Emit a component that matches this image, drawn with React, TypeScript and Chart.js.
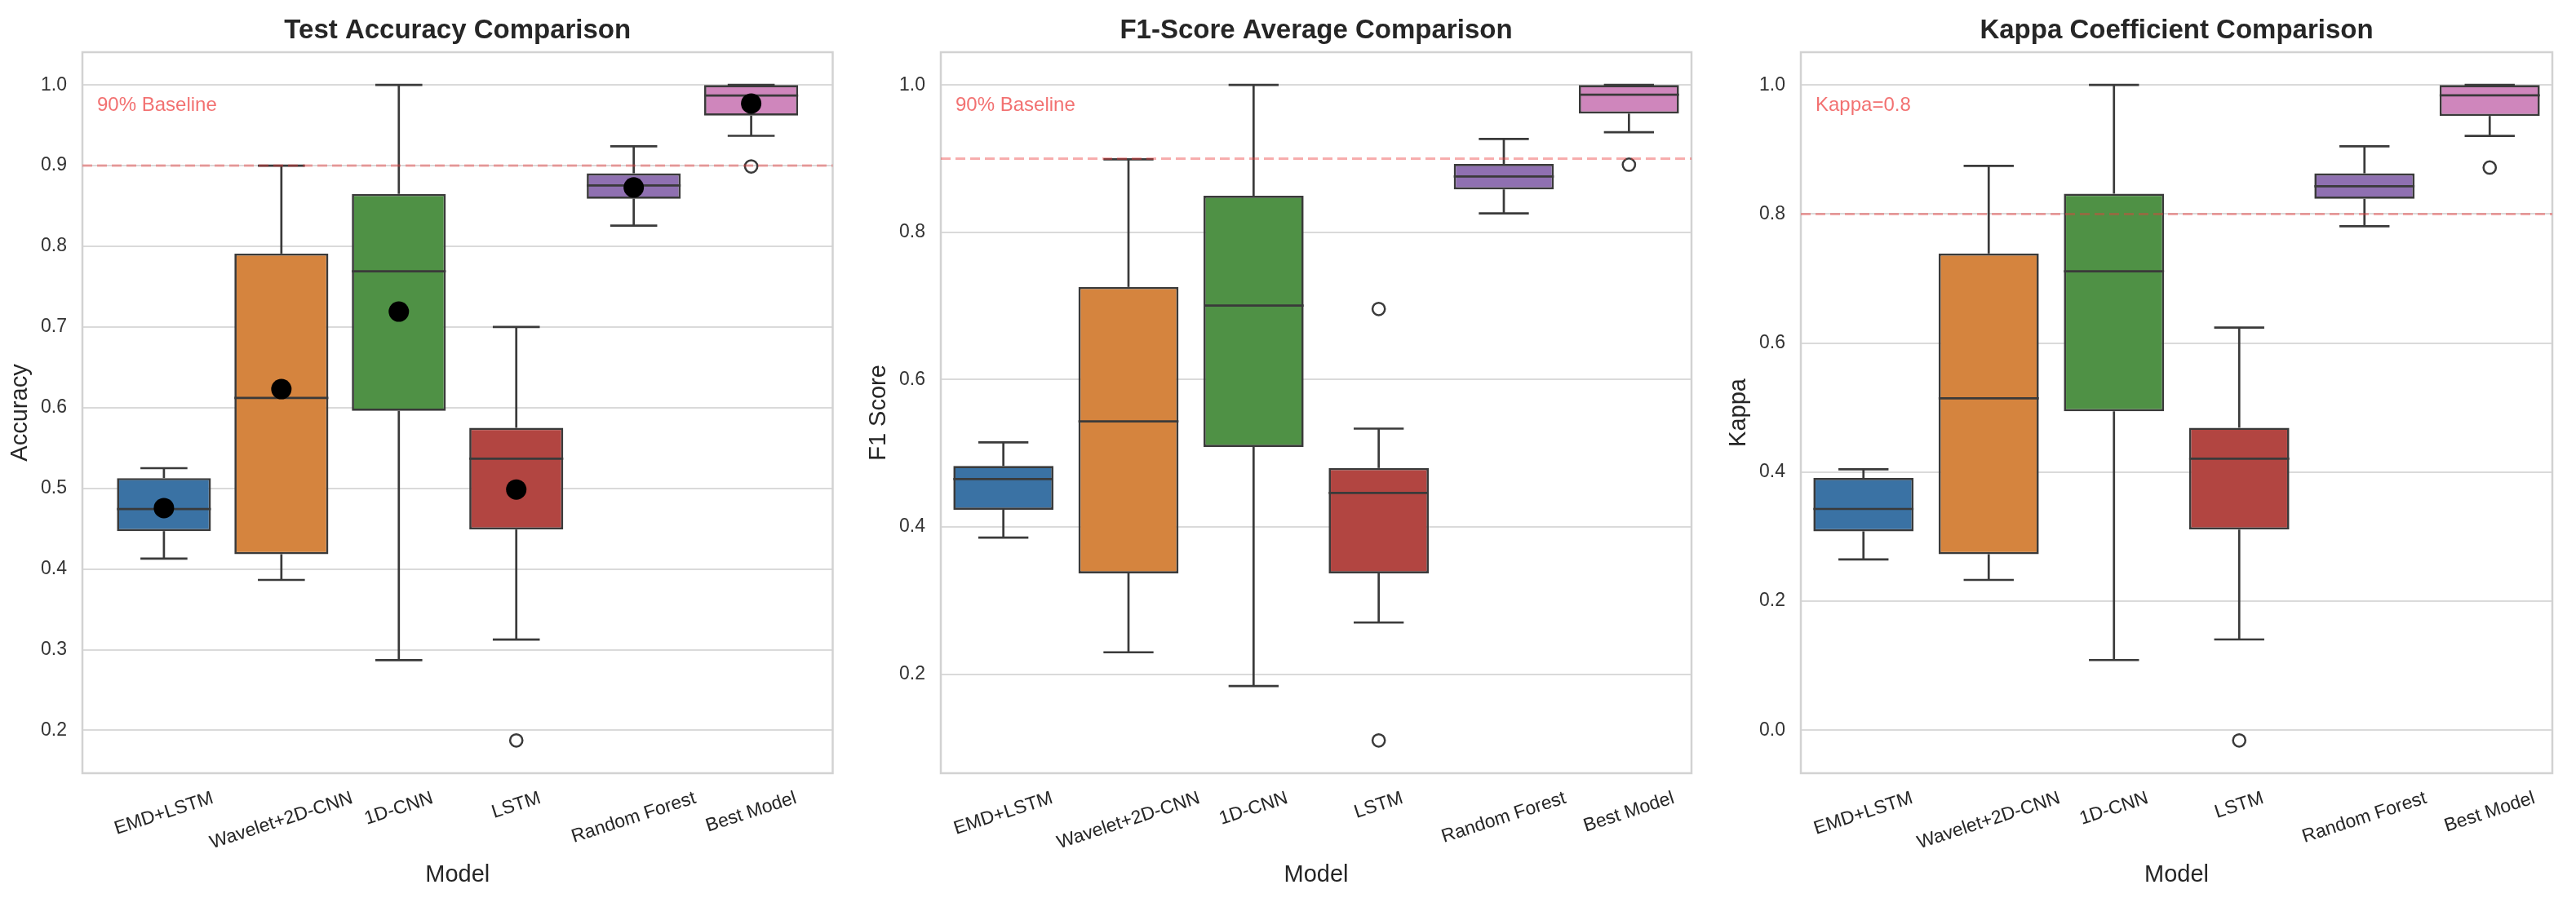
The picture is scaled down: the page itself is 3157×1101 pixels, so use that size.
import React, { useEffect, useRef } from 'react';
import { Chart, registerables } from 'chart.js';

Chart.register(...registerables);

// ---------- data ----------
const categories = ['EMD+LSTM', 'Wavelet+2D-CNN', '1D-CNN', 'LSTM', 'Random Forest', 'Best Model'];
const boxColors = ['#3a72a4', '#d5843e', '#4f9145', '#b24541', '#8f70b1', '#cf86bc'];

// Test accuracy
const accLow = [0.413, 0.3865, 0.287, 0.3125, 0.8256, 0.937];
const accQ1 = [0.447, 0.4184, 0.596, 0.449, 0.859, 0.962];
const accMedian = [0.4744, 0.612, 0.769, 0.5368, 0.8755, 0.987];
const accQ3 = [0.5127, 0.791, 0.865, 0.575, 0.8905, 1.0];
const accHigh = [0.525, 0.9, 1.0, 0.7, 0.924, 1.0];
const accMean = [0.4755, 0.623, 0.719, 0.4985, 0.873, 0.977];
const accOutlierModel = ['LSTM', 'Best Model'];
const accOutlierValue = [0.1875, 0.899];
const accTicks = [0.2, 0.3, 0.4, 0.5, 0.6, 0.7, 0.8, 0.9, 1.0];

// F1-score
const f1Low = [0.3855, 0.2297, 0.1838, 0.2701, 0.8256, 0.9359];
const f1Q1 = [0.4233, 0.3369, 0.5085, 0.3369, 0.8582, 0.9611];
const f1Median = [0.4648, 0.5432, 0.7005, 0.4461, 0.8757, 0.9868];
const f1Q3 = [0.4826, 0.7257, 0.8496, 0.4799, 0.8928, 1.0];
const f1High = [0.5148, 0.899, 1.0, 0.5334, 0.9266, 1.0];
const f1OutlierModel = ['LSTM', 'LSTM', 'Best Model'];
const f1OutlierValue = [0.6958, 0.11, 0.8917];
const f1Ticks = [0.2, 0.4, 0.6, 0.8, 1.0];

// Kappa
const kappaLow = [0.2647, 0.2329, 0.1087, 0.1406, 0.781, 0.921];
const kappaQ1 = [0.3082, 0.2728, 0.4944, 0.3109, 0.8235, 0.952];
const kappaMedian = [0.3429, 0.5144, 0.7113, 0.4209, 0.843, 0.984];
const kappaQ3 = [0.3908, 0.7388, 0.8315, 0.4688, 0.863, 1.0];
const kappaHigh = [0.4044, 0.8745, 1.0, 0.6239, 0.905, 1.0];
const kappaOutlierModel = ['LSTM', 'Best Model'];
const kappaOutlierValue = [-0.0159, 0.872];
const kappaTicks = [0.0, 0.2, 0.4, 0.6, 0.8, 1.0];

// ---------- style ----------
const FONT = '"Liberation Sans", Arial, Helvetica, sans-serif';
const EDGE = '#3a3a3a';
const TEXT = '#262626';
const GRID = '#dadada';
const FRAME = '#d2d2d2';
const H = 1101;
const PLOT_TOP = 64;
const PLOT_BOTTOM = 948;
const YAXIS_W = 101;
const PAD_R = 12;

type PanelSpec = {
  key: string;
  plotLeft: number;
  plotRight: number;
  title: string;
  yTitle: string;
  low: number[];
  q1: number[];
  median: number[];
  q3: number[];
  high: number[];
  mean: number[] | null;
  outModel: string[];
  outValue: number[];
  ticks: number[];
  xMin: number;
  xMax: number;
  refValue: number;
  refLabel: string;
};

const panels: PanelSpec[] = [
  {
    key: 'acc', plotLeft: 101, plotRight: 1021, title: 'Test Accuracy Comparison', yTitle: 'Accuracy',
    low: accLow, q1: accQ1, median: accMedian, q3: accQ3, high: accHigh, mean: accMean,
    outModel: accOutlierModel, outValue: accOutlierValue, ticks: accTicks,
    xMin: -0.694, xMax: 5.694, refValue: 0.9, refLabel: '90% Baseline',
  },
  {
    key: 'f1', plotLeft: 1153, plotRight: 2073, title: 'F1-Score Average Comparison', yTitle: 'F1 Score',
    low: f1Low, q1: f1Q1, median: f1Median, q3: f1Q3, high: f1High, mean: null,
    outModel: f1OutlierModel, outValue: f1OutlierValue, ticks: f1Ticks,
    xMin: -0.5, xMax: 5.5, refValue: 0.9, refLabel: '90% Baseline',
  },
  {
    key: 'kappa', plotLeft: 2207, plotRight: 3128, title: 'Kappa Coefficient Comparison', yTitle: 'Kappa',
    low: kappaLow, q1: kappaQ1, median: kappaMedian, q3: kappaQ3, high: kappaHigh, mean: null,
    outModel: kappaOutlierModel, outValue: kappaOutlierValue, ticks: kappaTicks,
    xMin: -0.5, xMax: 5.5, refValue: 0.8, refLabel: 'Kappa=0.8',
  },
];

function yRange(p: PanelSpec): [number, number] {
  const all = [...p.low, ...p.high, ...p.outValue, ...(p.mean || [])];
  const lo = Math.min(...all);
  const hi = Math.max(...all);
  const m = (hi - lo) * 0.05;
  return [lo - m, hi + m];
}

function makePlugin(p: PanelSpec) {
  return {
    id: 'boxExtras_' + p.key,
    beforeDatasetsDraw(chart: any) {
      const { ctx, chartArea: a } = chart;
      ctx.save();
      ctx.strokeStyle = FRAME;
      ctx.lineWidth = 2.5;
      ctx.strokeRect(a.left, a.top, a.right - a.left, a.bottom - a.top);
      ctx.restore();
    },
    afterDatasetDraw(chart: any, args: any) {
      if (args.index !== 0) return;
      const ctx = chart.ctx;
      const y = chart.scales.y;
      const meta = chart.getDatasetMeta(0);
      ctx.save();
      ctx.strokeStyle = EDGE;
      ctx.lineWidth = 2.7;
      ctx.lineCap = 'butt';
      const line = (x1: number, y1: number, x2: number, y2: number) => {
        ctx.beginPath();
        ctx.moveTo(x1, y1);
        ctx.lineTo(x2, y2);
        ctx.stroke();
      };
      categories.forEach((_, i) => {
        const bar = meta.data[i];
        const cx = bar.x;
        const half = bar.width / 2;
        const yl = y.getPixelForValue(p.low[i]);
        const y1 = y.getPixelForValue(p.q1[i]);
        const y3 = y.getPixelForValue(p.q3[i]);
        const yh = y.getPixelForValue(p.high[i]);
        const ym = y.getPixelForValue(p.median[i]);
        if (yh < y3 - 0.5) {
          line(cx, y3, cx, yh);
        }
        if (yl > y1 + 0.5) {
          line(cx, y1, cx, yl);
        }
        line(cx - half / 2, yh, cx + half / 2, yh);
        line(cx - half / 2, yl, cx + half / 2, yl);
        line(cx - half, ym, cx + half, ym);
      });
      ctx.restore();
    },
    afterDatasetsDraw(chart: any) {
      const { ctx, chartArea: a } = chart;
      const y = chart.scales.y;
      const ry = y.getPixelForValue(p.refValue);
      ctx.save();
      ctx.strokeStyle = 'rgba(235, 60, 60, 0.42)';
      ctx.lineWidth = 3;
      ctx.setLineDash([12, 6]);
      ctx.beginPath();
      ctx.moveTo(a.left, ry);
      ctx.lineTo(a.right, ry);
      ctx.stroke();
      ctx.setLineDash([]);
      ctx.fillStyle = 'rgba(236, 40, 40, 0.66)';
      ctx.font = `24px ${FONT}`;
      ctx.textAlign = 'left';
      ctx.textBaseline = 'alphabetic';
      ctx.fillText(p.refLabel, a.left + 18, a.top + 72);
      ctx.restore();
    },
    afterDraw(chart: any) {
      const { ctx, chartArea: a } = chart;
      const x = chart.scales.x;
      const cxm = (a.left + a.right) / 2;
      ctx.save();
      ctx.fillStyle = TEXT;
      // title
      ctx.font = `bold 33px ${FONT}`;
      ctx.textAlign = 'center';
      ctx.textBaseline = 'alphabetic';
      ctx.fillText(p.title, cxm, 47);
      // x axis title
      ctx.font = `29px ${FONT}`;
      ctx.fillText('Model', cxm, 1081);
      // y axis title
      ctx.save();
      ctx.translate(a.left - 76, (a.top + a.bottom) / 2);
      ctx.rotate(-Math.PI / 2);
      ctx.textBaseline = 'middle';
      ctx.fillText(p.yTitle, 0, 0);
      ctx.restore();
      // x tick labels, rotated and centered on their tick
      const theta = (18 * Math.PI) / 180;
      ctx.font = `23px ${FONT}`;
      ctx.textBaseline = 'middle';
      ctx.textAlign = 'center';
      categories.forEach((c, i) => {
        const px = x.getPixelForValue(i);
        const w = ctx.measureText(c).width;
        const bh = w * Math.sin(theta) + 17 * Math.cos(theta);
        ctx.save();
        ctx.translate(px, a.bottom + 22 + bh / 2);
        ctx.rotate(-theta);
        ctx.fillText(c, 0, 0);
        ctx.restore();
      });
      ctx.restore();
    },
  };
}

function Panel({ p }: { p: PanelSpec }) {
  const ref = useRef<HTMLCanvasElement>(null);
  const canvasLeft = p.plotLeft - YAXIS_W;
  const width = p.plotRight - p.plotLeft + YAXIS_W + PAD_R;

  useEffect(() => {
    const [yMin, yMax] = yRange(p);
    const datasets: any[] = [
      {
        type: 'bar',
        data: categories.map((_, i) => ({ x: i, y: [p.q1[i], p.q3[i]] })),
        backgroundColor: boxColors,
        borderColor: EDGE,
        borderWidth: 2.7,
        borderSkipped: false,
        barPercentage: 0.8,
        categoryPercentage: 1.0,
        order: 3,
      },
      {
        type: 'line',
        data: p.outModel.map((m, j) => ({ x: categories.indexOf(m), y: p.outValue[j] })),
        showLine: false,
        pointRadius: 7.6,
        pointBackgroundColor: 'rgba(0,0,0,0)',
        pointBorderColor: EDGE,
        pointBorderWidth: 2.5,
        order: 2,
      },
    ];
    if (p.mean) {
      datasets.push({
        type: 'line',
        data: categories.map((_, i) => ({ x: i, y: (p.mean as number[])[i] })),
        showLine: false,
        pointRadius: 12.5,
        pointBackgroundColor: '#000000',
        pointBorderWidth: 0,
        order: 1,
      });
    }
    const chart = new Chart(ref.current as HTMLCanvasElement, {
      type: 'bar',
      data: { datasets },
      options: {
        responsive: false,
        animation: false,
        devicePixelRatio: 1,
        events: [],
        layout: { padding: { left: 0, right: PAD_R, top: PLOT_TOP, bottom: 0 } },
        plugins: { legend: { display: false }, tooltip: { enabled: false }, title: { display: false } },
        scales: {
          x: {
            type: 'linear',
            min: p.xMin,
            max: p.xMax,
            offset: false,
            grid: { display: false },
            border: { display: false },
            ticks: { display: false },
            afterBuildTicks: (s: any) => {
              s.ticks = categories.map((_, i) => ({ value: i }));
            },
            afterFit: (s: any) => {
              s.height = H - PLOT_BOTTOM;
            },
          },
          y: {
            type: 'linear',
            min: yMin,
            max: yMax,
            grid: { color: GRID, lineWidth: 2, drawTicks: false },
            border: { display: false },
            ticks: {
              padding: 19,
              color: '#333333',
              font: { family: FONT, size: 23 },
              callback: (v: any) => Number(v).toFixed(1),
            },
            afterBuildTicks: (s: any) => {
              s.ticks = p.ticks.map((v) => ({ value: v }));
            },
            afterFit: (s: any) => {
              s.width = YAXIS_W;
            },
          },
        },
      } as any,
      plugins: [makePlugin(p)],
    });
    return () => chart.destroy();
  }, []);

  return (
    <canvas
      ref={ref}
      width={width}
      height={H}
      style={{ position: 'absolute', left: canvasLeft, top: 0, width, height: H }}
    />
  );
}

export default function App() {
  return (
    <div style={{ position: 'absolute', left: 0, top: 0, width: 3157, height: H, background: '#ffffff' }}>
      {panels.map((p) => (
        <Panel key={p.key} p={p} />
      ))}
    </div>
  );
}
